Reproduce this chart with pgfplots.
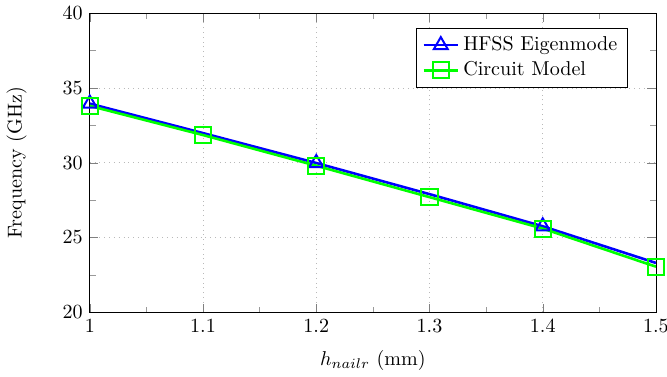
\documentclass[border=0pt]{standalone}
\usepackage{pgfplots}
\pgfplotsset{compat=1.18}
\begin{document}
\begin{tikzpicture}
\begin{axis}[
  scale only axis,
  width=282pt, height=149pt,
  xmin=1, xmax=1.5, ymin=20, ymax=40,
  xtick={1,1.1,1.2,1.3,1.4,1.5},
  ytick={20,25,30,35,40},
  minor y tick num=1,
  minor x tick num=1,
  grid=major,
  major grid style={dotted, gray!55},
  minor tick style={gray!80},
  tick align=inside,
  xlabel={$h_{nailr}$ (mm)},
  ylabel={Frequency (GHz)},
  ylabel shift=11pt,
  xlabel shift=2pt,
  legend style={at={(0.95,0.95)}, anchor=north east, draw=black, font=\normalsize},
  legend cell align=left,
]
\addplot[blue, line width=1.3pt, mark=triangle, mark size=4pt, mark repeat=2, mark options={solid, line width=1pt}]
  coordinates {(1.0,33.95) (1.1,31.98) (1.2,29.98) (1.3,27.9) (1.4,25.75) (1.5,23.3)};
\addlegendentry{HFSS Eigenmode}
\addplot[green, line width=1.3pt, mark=square, mark size=4pt, mark options={solid, line width=1pt}]
  coordinates {(1.0,33.8) (1.1,31.85) (1.2,29.8) (1.3,27.7) (1.4,25.6) (1.5,23.05)};
\addlegendentry{Circuit Model}
\end{axis}
\coordinate (SW) at (current bounding box.south west);
\coordinate (NE) at (current bounding box.north east);
\coordinate (R) at ([xshift=5.5pt]current axis.east);
\pgfresetboundingbox
\path[use as bounding box] (SW) rectangle (R |- NE);
\end{tikzpicture}
\end{document}
